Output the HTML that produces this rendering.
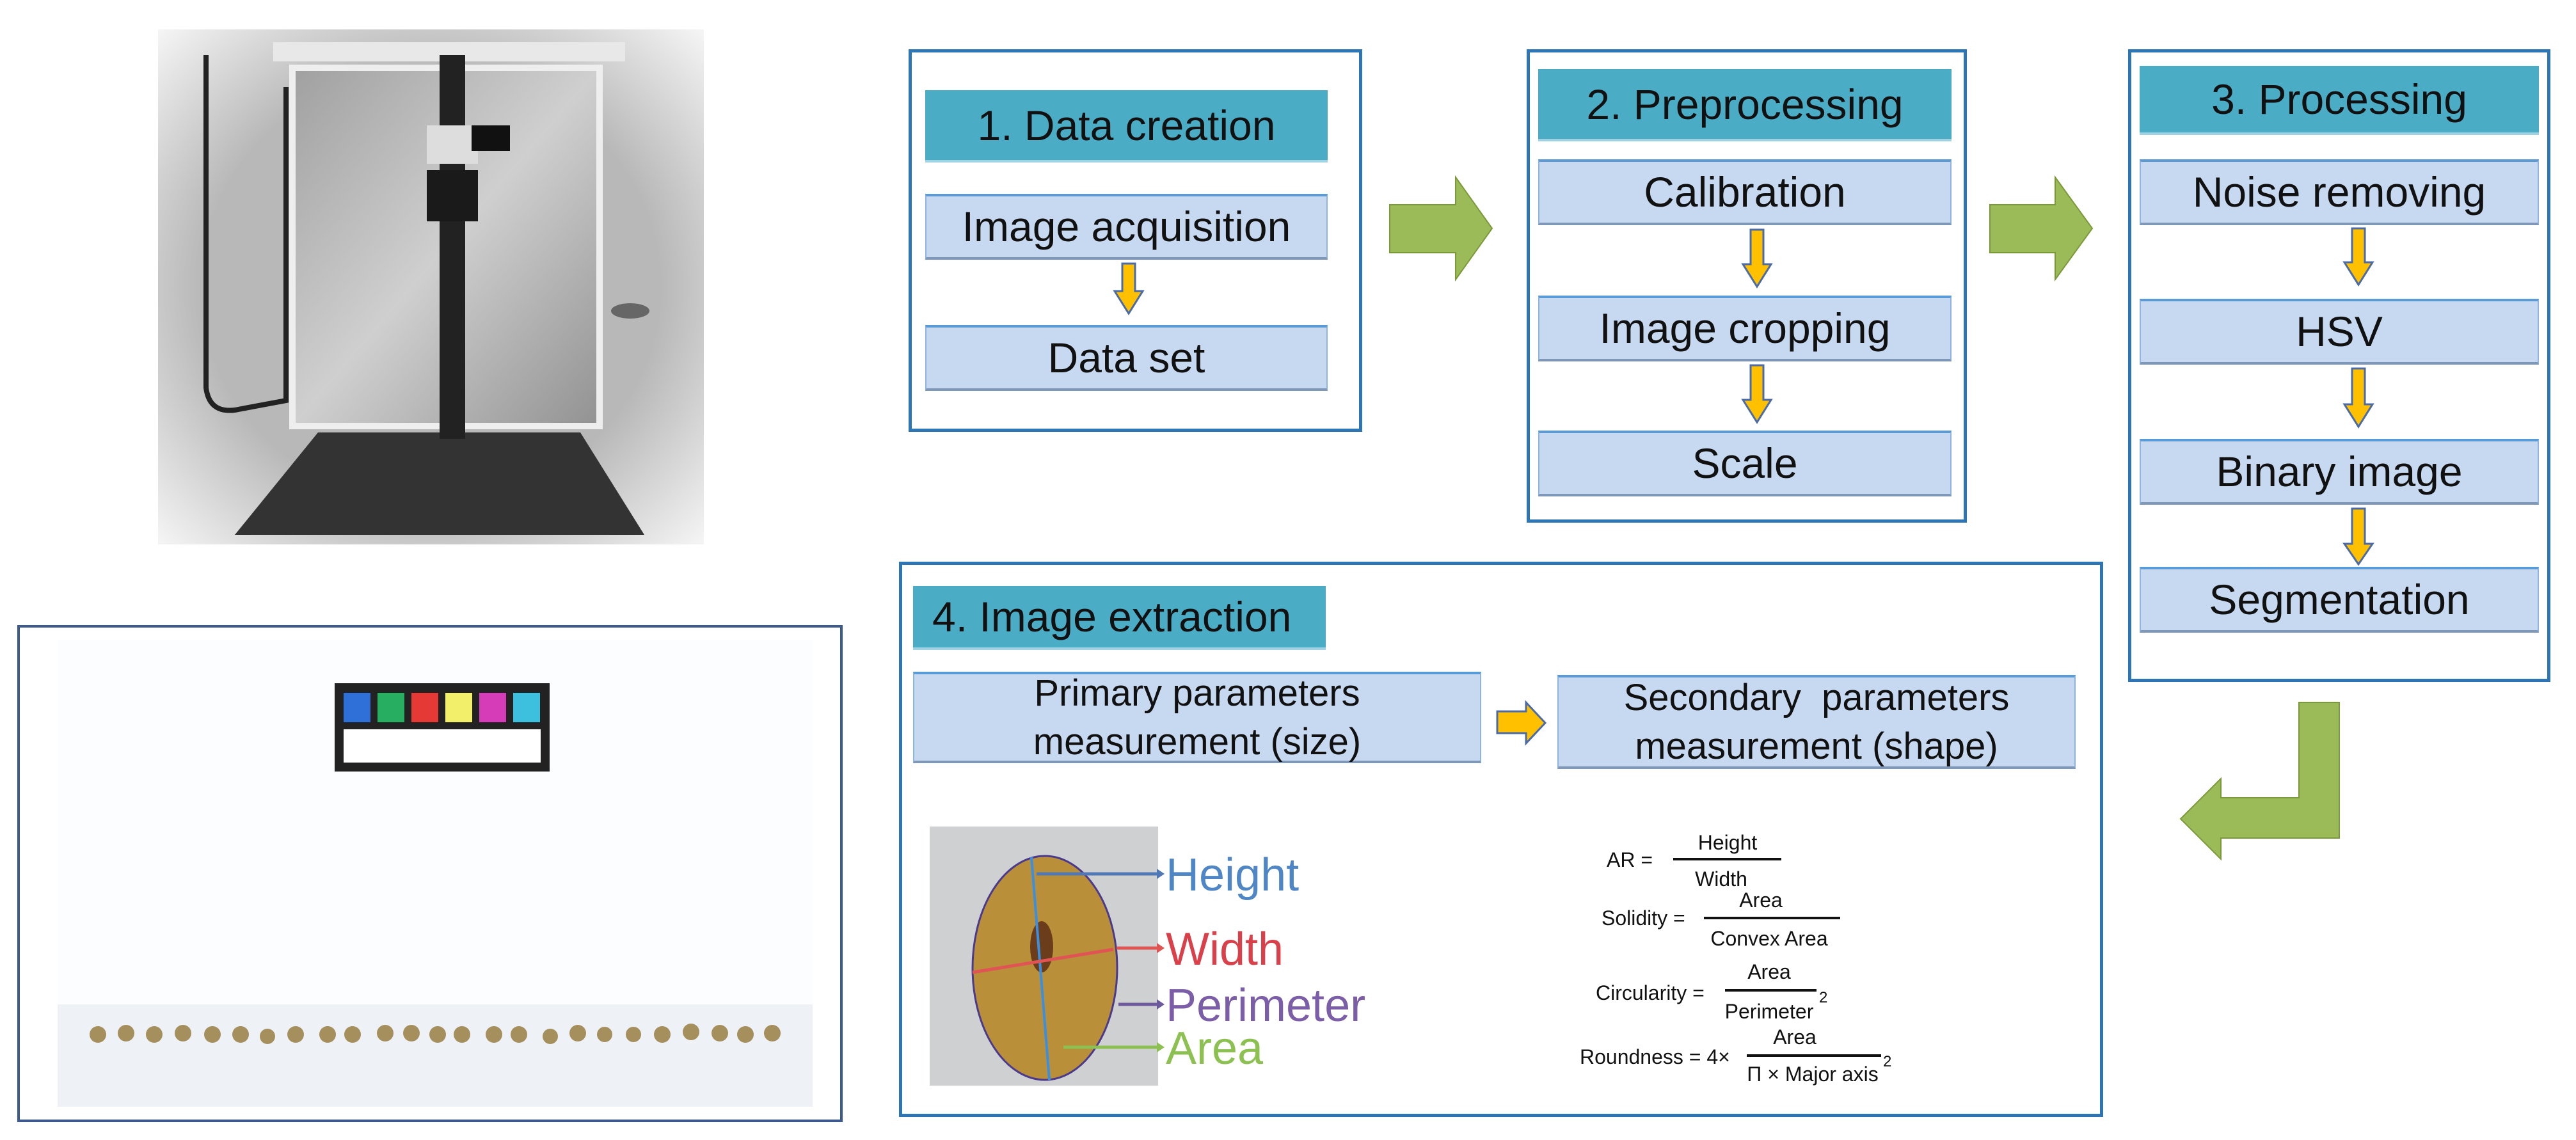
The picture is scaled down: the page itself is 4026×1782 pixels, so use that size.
<!DOCTYPE html>
<html><head><meta charset="utf-8"><style>
body{margin:0;width:4026px;height:1782px;background:#fff;position:relative;overflow:hidden;font-family:"Liberation Sans",Arial,sans-serif;}
.a{position:absolute;box-sizing:border-box;}
.frame{border:5px solid #2e75b6;background:#fff;}
.hd{background:#4bacc6;color:#111;font-size:66px;display:flex;align-items:center;justify-content:center;border-bottom:4px solid #9fd3e3;}
.bx{background:#c6d9f1;color:#111;font-size:66px;display:flex;align-items:center;justify-content:center;text-align:center;border:2px solid #8eb4e3;border-top:4px solid #5b9bd5;border-bottom:4px solid #7f98b8;line-height:1.3;}
</style></head><body>

<!-- photo of chamber -->
<svg class="a" style="left:247px;top:46px" width="853" height="805" viewBox="0 0 853 805">
<defs>
<radialGradient id="vg" cx="50%" cy="50%" r="70%"><stop offset="0.6" stop-color="#b8b8b8"/><stop offset="1" stop-color="#f4f4f4"/></radialGradient>
<linearGradient id="bk" x1="0" y1="0" x2="1" y2="1"><stop offset="0" stop-color="#a0a0a0"/><stop offset="0.5" stop-color="#cfcfcf"/><stop offset="1" stop-color="#929292"/></linearGradient>
</defs>
<rect width="853" height="805" fill="url(#vg)"/>
<rect x="210" y="60" width="480" height="560" fill="url(#bk)" stroke="#eee" stroke-width="10"/>
<rect x="180" y="20" width="550" height="30" fill="#e8e8e8"/>
<polygon points="250,630 660,630 760,790 120,790" fill="#333"/>
<rect x="440" y="40" width="40" height="600" fill="#222"/>
<rect x="420" y="220" width="80" height="80" fill="#1a1a1a"/>
<rect x="420" y="150" width="80" height="60" fill="#ddd"/>
<rect x="490" y="150" width="60" height="40" fill="#111"/>
<path d="M75 40 L75 560 Q80 600 120 595 L200 580 L200 90" fill="none" stroke="#222" stroke-width="8"/>
<ellipse cx="738" cy="440" rx="30" ry="12" fill="#666"/>
</svg>

<!-- bottom left frame -->
<div class="a" style="left:27px;top:977px;width:1290px;height:777px;border:4px solid #3c5a8c;"></div>
<div class="a" style="left:90px;top:1000px;width:1180px;height:730px;background:#fcfdfe;"></div>
<div class="a" style="left:90px;top:1570px;width:1180px;height:160px;background:#eef1f6;"></div>
<div class="a" style="left:523px;top:1068px;width:336px;height:138px;background:#222;"></div>
<div class="a" style="left:537px;top:1140px;width:308px;height:52px;background:#fff;"></div>
<div class="a" style="left:537px;top:1083px;width:42px;height:46px;background:#2e6fd8;"></div>
<div class="a" style="left:590px;top:1083px;width:42px;height:46px;background:#27ae60;"></div>
<div class="a" style="left:643px;top:1083px;width:42px;height:46px;background:#e53935;"></div>
<div class="a" style="left:696px;top:1083px;width:42px;height:46px;background:#f2ef6a;"></div>
<div class="a" style="left:749px;top:1083px;width:42px;height:46px;background:#d63bb8;"></div>
<div class="a" style="left:802px;top:1083px;width:42px;height:46px;background:#3cc0dd;"></div>
<svg class="a" style="left:0;top:0" width="1320" height="1782">
<g fill="#a58f5c">
<circle cx="153" cy="1617" r="13"/><circle cx="197" cy="1615" r="13"/><circle cx="241" cy="1617" r="13"/><circle cx="286" cy="1615" r="13"/><circle cx="332" cy="1617" r="13"/><circle cx="376" cy="1617" r="13"/><circle cx="418" cy="1620" r="12"/><circle cx="462" cy="1617" r="13"/><circle cx="512" cy="1617" r="13"/><circle cx="551" cy="1617" r="13"/><circle cx="602" cy="1615" r="13"/><circle cx="643" cy="1615" r="13"/><circle cx="684" cy="1617" r="13"/><circle cx="722" cy="1617" r="13"/><circle cx="772" cy="1617" r="13"/><circle cx="811" cy="1617" r="13"/><circle cx="860" cy="1620" r="12"/><circle cx="903" cy="1615" r="13"/><circle cx="945" cy="1617" r="12"/><circle cx="990" cy="1617" r="12"/><circle cx="1035" cy="1617" r="13"/><circle cx="1080" cy="1613" r="13"/><circle cx="1125" cy="1615" r="13"/><circle cx="1165" cy="1617" r="13"/><circle cx="1207" cy="1615" r="13"/>
</g></svg>

<!-- Box 1 -->
<div class="a frame" style="left:1420px;top:77px;width:709px;height:598px;"></div>
<div class="a hd" style="left:1446px;top:141px;width:629px;height:113px;">1. Data creation</div>
<div class="a bx" style="left:1446px;top:303px;width:629px;height:103px;">Image acquisition</div>
<div class="a bx" style="left:1446px;top:508px;width:629px;height:103px;">Data set</div>

<!-- Box 2 -->
<div class="a frame" style="left:2386px;top:77px;width:688px;height:740px;"></div>
<div class="a hd" style="left:2404px;top:108px;width:646px;height:113px;">2. Preprocessing</div>
<div class="a bx" style="left:2404px;top:249px;width:646px;height:103px;">Calibration</div>
<div class="a bx" style="left:2404px;top:462px;width:646px;height:103px;">Image cropping</div>
<div class="a bx" style="left:2404px;top:673px;width:646px;height:103px;">Scale</div>

<!-- Box 3 -->
<div class="a frame" style="left:3326px;top:77px;width:660px;height:989px;"></div>
<div class="a hd" style="left:3344px;top:103px;width:624px;height:108px;">3. Processing</div>
<div class="a bx" style="left:3344px;top:249px;width:624px;height:103px;">Noise removing</div>
<div class="a bx" style="left:3344px;top:467px;width:624px;height:103px;">HSV</div>
<div class="a bx" style="left:3344px;top:686px;width:624px;height:103px;">Binary image</div>
<div class="a bx" style="left:3344px;top:886px;width:624px;height:103px;">Segmentation</div>

<!-- Box 4 -->
<div class="a frame" style="left:1405px;top:878px;width:1882px;height:868px;"></div>
<div class="a hd" style="left:1427px;top:916px;width:645px;height:100px;justify-content:flex-start;padding-left:30px;">4. Image extraction</div>
<div class="a bx" style="left:1427px;top:1050px;width:888px;height:143px;font-size:58px;">Primary parameters<br>measurement (size)</div>
<div class="a bx" style="left:2434px;top:1055px;width:810px;height:147px;font-size:58px;">Secondary&nbsp; parameters<br>measurement (shape)</div>

<svg class="a" style="left:0;top:0" width="4026" height="1782">
<rect x="1453" y="1292" width="357" height="405" fill="#cfd0d2"/>
<ellipse cx="1633" cy="1513" rx="113" ry="175" fill="#b98f3a" stroke="#4b3a8c" stroke-width="3"/>
<ellipse cx="1628" cy="1480" rx="18" ry="40" fill="#6b3d1a"/>
<line x1="1612" y1="1340" x2="1640" y2="1688" stroke="#3b8fe0" stroke-width="4"/>
<line x1="1520" y1="1520" x2="1740" y2="1484" stroke="#e05454" stroke-width="5"/>
<g stroke-width="5">
<line x1="1620" y1="1366" x2="1808" y2="1366" stroke="#4f78b5"/><polygon points="1808,1358 1820,1366 1808,1374" fill="#4f78b5"/>
<line x1="1745" y1="1482" x2="1808" y2="1482" stroke="#e05454"/><polygon points="1808,1474 1820,1482 1808,1490" fill="#e05454"/>
<line x1="1748" y1="1570" x2="1808" y2="1570" stroke="#6d5a9c"/><polygon points="1808,1562 1820,1570 1808,1578" fill="#6d5a9c"/>
<line x1="1662" y1="1637" x2="1808" y2="1637" stroke="#8cc152"/><polygon points="1808,1629 1820,1637 1808,1645" fill="#8cc152"/>
</g>
<g font-family="Liberation Sans, Arial, sans-serif" font-size="72">
<text x="1822" y="1392" fill="#4f86c6">Height</text>
<text x="1822" y="1508" fill="#d9404a">Width</text>
<text x="1822" y="1596" fill="#7b5ea7">Perimeter</text>
<text x="1822" y="1663" fill="#8cc152">Area</text>
</g>

<g font-family="Liberation Sans, Arial, sans-serif" font-size="32" fill="#111">
<text x="2511" y="1355">AR =</text>
<line x1="2615" y1="1343" x2="2784" y2="1343" stroke="#111" stroke-width="4"/>
<text x="2700" y="1328" text-anchor="middle">Height</text>
<text x="2690" y="1385" text-anchor="middle">Width</text>
<text x="2503" y="1446">Solidity =</text>
<line x1="2663" y1="1435" x2="2876" y2="1435" stroke="#111" stroke-width="4"/>
<text x="2752" y="1418" text-anchor="middle">Area</text>
<text x="2765" y="1478" text-anchor="middle">Convex Area</text>
<text x="2494" y="1563">Circularity =</text>
<line x1="2696" y1="1548" x2="2839" y2="1548" stroke="#111" stroke-width="4"/>
<text x="2765" y="1530" text-anchor="middle">Area</text>
<text x="2765" y="1592" text-anchor="middle">Perimeter</text>
<text x="2843" y="1567" font-size="24">2</text>
<text x="2469" y="1663">Roundness = 4×</text>
<line x1="2730" y1="1650" x2="2940" y2="1650" stroke="#111" stroke-width="4"/>
<text x="2805" y="1632" text-anchor="middle">Area</text>
<text x="2833" y="1690" text-anchor="middle">Π × Major axis</text>
<text x="2943" y="1667" font-size="24">2</text>
</g>

<g fill="#ffc000" stroke="#4a6aa8" stroke-width="3">
<polygon points="1754,412 1774,412 1774,455 1786,455 1764,490 1742,455 1754,455"/>
<polygon points="2736,359 2756,359 2756,413 2768,413 2746,448 2724,413 2736,413"/>
<polygon points="2736,571 2756,571 2756,625 2768,625 2746,660 2724,625 2736,625"/>
<polygon points="3676,357 3696,357 3696,410 3708,410 3686,445 3664,410 3676,410"/>
<polygon points="3676,576 3696,576 3696,632 3708,632 3686,667 3664,632 3676,632"/>
<polygon points="3676,795 3696,795 3696,850 3708,850 3686,882 3664,850 3676,850"/>
<polygon points="2340,1112 2385,1112 2385,1098 2415,1130 2385,1162 2385,1146 2340,1146"/>
</g>

<g fill="#9bbb59" stroke="#7a9a3a" stroke-width="2">
<polygon points="2172,320 2275,320 2275,277 2332,357 2275,437 2275,395 2172,395"/>
<polygon points="3110,320 3212,320 3212,277 3270,357 3212,437 3212,395 3110,395"/>
<polygon points="3593,1098 3656,1098 3656,1310 3471,1310 3471,1343 3408,1280 3471,1217 3471,1247 3593,1247"/>
</g>
</svg>
</body></html>
